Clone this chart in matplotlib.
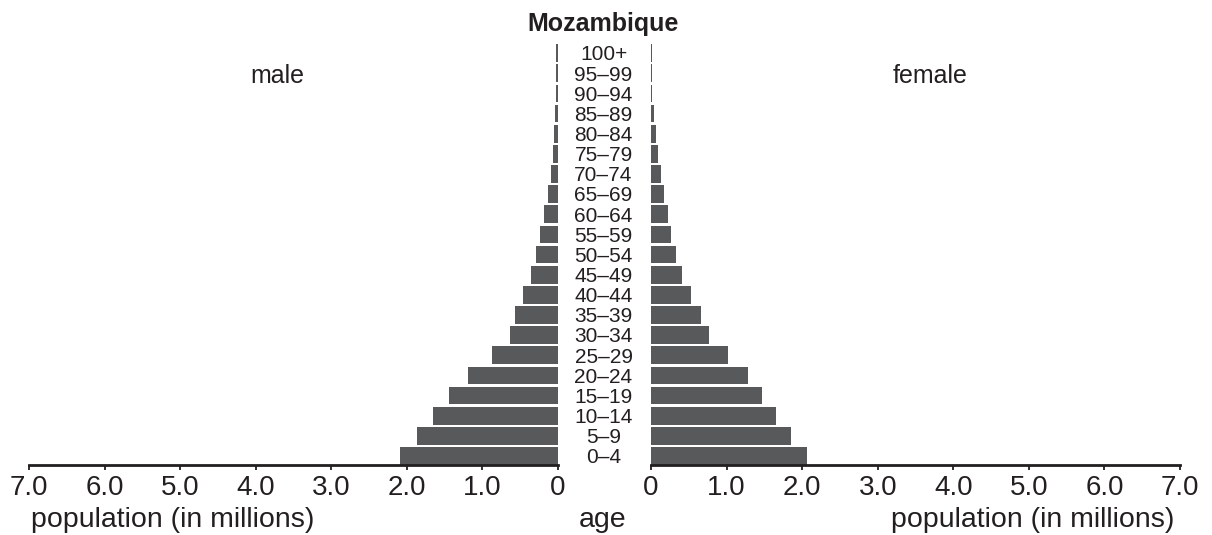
import matplotlib
matplotlib.use("Agg")
import matplotlib.pyplot as plt

plt.rcParams['font.family'] = ['Liberation Sans', 'DejaVu Sans']

age_groups = ["0–4", "5–9", "10–14", "15–19", "20–24", "25–29", "30–34", "35–39",
              "40–44", "45–49", "50–54", "55–59", "60–64", "65–69", "70–74",
              "75–79", "80–84", "85–89", "90–94", "95–99", "100+"]
male = [2.09, 1.87, 1.66, 1.44, 1.19, 0.87, 0.64, 0.57, 0.46, 0.36, 0.29, 0.24,
        0.185, 0.13, 0.09, 0.07, 0.05, 0.045, 0.03, 0.03, 0.03]
female = [2.07, 1.85, 1.65, 1.47, 1.28, 1.02, 0.77, 0.66, 0.53, 0.41, 0.33, 0.265,
          0.225, 0.17, 0.13, 0.09, 0.07, 0.04, 0.015, 0.015, 0.015]
xticks = [0, 1, 2, 3, 4, 5, 6, 7]
xtick_labels = ["0", "1.0", "2.0", "3.0", "4.0", "5.0", "6.0", "7.0"]

W, H = 1212, 535
fig = plt.figure(figsize=(W / 100, H / 100), dpi=100)

bar_color = "#58595b"
line_color = "#231f20"
text_color = "#231f20"

ax_bottom_px = 465
ax_top_px = 40
ymin, ymax = -0.45, 20.65

def px_rect(x0, x1):
    return [x0 / W, 1 - ax_bottom_px / H, (x1 - x0) / W, (ax_bottom_px - ax_top_px) / H]

axL = fig.add_axes(px_rect(29, 558))
axR = fig.add_axes(px_rect(651, 1180))

ypos = list(range(len(age_groups)))

for ax, vals in ((axL, male), (axR, female)):
    ax.barh(ypos, vals, height=0.88, color=bar_color, linewidth=0)
    ax.set_xlim(0, 7)
    ax.set_ylim(ymin, ymax)
    for s in ("top", "left", "right"):
        ax.spines[s].set_visible(False)
    ax.spines["bottom"].set_linewidth(2.0)
    ax.spines["bottom"].set_color(line_color)
    ax.set_yticks([])
    ax.set_xticks(xticks)
    ax.set_xticklabels(xtick_labels)
    ax.tick_params(axis="x", direction="out", length=3.5, width=1.3, color=line_color,
                   labelsize=20, labelcolor=text_color, pad=4)
    ax.patch.set_alpha(0)

axL.invert_xaxis()

# Age labels in the middle
for i, lab in enumerate(age_groups):
    axL.annotate(lab, xy=(0, i), xycoords="data", xytext=(45.5, -7.4),
                 textcoords="offset pixels", ha="center", va="baseline",
                 fontsize=15, color=text_color)

fig.text(603 / W, 1 - 31 / H, "Mozambique", ha="center", va="baseline",
         fontsize=18, fontweight="bold", color=text_color)
fig.text(277 / W, 1 - 83 / H, "male", ha="center", va="baseline", fontsize=18, color=text_color)
fig.text(930 / W, 1 - 83 / H, "female", ha="center", va="baseline", fontsize=18, color=text_color)
fig.text(173 / W, 1 - 527 / H, "population (in millions)", ha="center", va="baseline",
         fontsize=20.5, color=text_color)
fig.text(1033 / W, 1 - 527 / H, "population (in millions)", ha="center", va="baseline",
         fontsize=20.5, color=text_color)
fig.text(603 / W, 1 - 527 / H, "age", ha="center", va="baseline", fontsize=20.5, color=text_color)

fig.savefig("out.png", dpi=100, facecolor="white")
